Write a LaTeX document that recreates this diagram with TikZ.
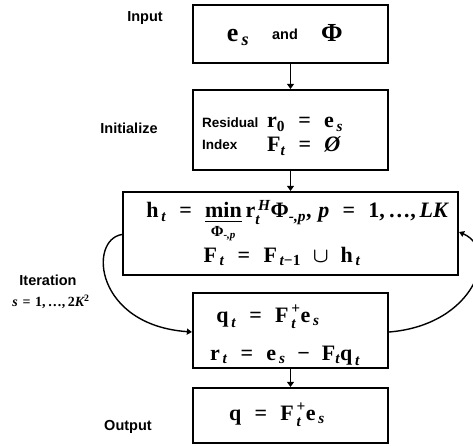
\documentclass[tikz,border=0pt]{standalone}
\usepackage{amsmath,amssymb}
\usepackage{fontspec}
\setmainfont{Liberation Serif}
\setsansfont{Liberation Sans}
\usetikzlibrary{arrows.meta}
% bold upright and bold italic text glyphs inside formulas
\newcommand\tb[1]{\text{\bfseries #1}}
\newcommand\ti[1]{\text{\bfseries\itshape #1}}
\newcommand\eq{\mathrel{\;\tb{=}\;}}
\begin{document}
\begin{tikzpicture}[x=1pt,y=-1pt,
  box/.style={draw, line width=2.2pt, rectangle, inner sep=0pt, minimum width=195pt},
  lbl/.style={inner sep=0pt, font=\sffamily\bfseries\fontsize{14.5}{16}\selectfont},
  sublbl/.style={inner sep=0pt, anchor=base west, font=\sffamily\bfseries\fontsize{13.5}{15}\selectfont},
  mth/.style={inner sep=0pt, anchor=base, font=\fontsize{22}{26}\selectfont\boldmath},
  flow/.style={line width=1.8pt, -{Triangle[width=7pt,length=5pt]}},
  loopback/.style={line width=1.4pt, -{Triangle[width=6pt,length=5pt]}}]
\useasboundingbox (0,0) rectangle (473,446);

% process boxes
\node[box, minimum height=58pt] (input) at (290.5,34) {};
\node[box, minimum height=80pt] (init) at (290.5,130) {};
\node[box, minimum width=335pt, minimum height=83pt] (iter) at (290.5,233.5) {};
\node[box, minimum height=75pt] (update) at (290.5,330.5) {};
\node[box, minimum height=55pt] (output) at (290.5,415.5) {};

% stage labels
\node[lbl] (lin) at (145,18) {Input};
\node[lbl] (linit) at (129,128) {Initialize};
\node[lbl] (liter) at (48,280) {Iteration};
\node[inner sep=0pt, font=\fontsize{14}{17}\selectfont\boldmath] (lrange) at (51,302) {$\ti{s}\mathrel{\tb{=}}\tb{1,\,…,\,2}\ti{K}^{\tb{2}}$};
\node[lbl] (lout) at (128,427) {Output};

% box contents
\node[mth, font=\fontsize{26}{30}\selectfont\boldmath] (es) at (238,42) {$\tb{e}_{\,\ti{s}}$};
\node[lbl, anchor=base] (and) at (285,40) {and};
\node[mth, font=\fontsize{26}{30}\selectfont\boldmath] (phi) at (332,42) {$\tb{Φ}$};

\node[sublbl] (res) at (202,128) {Residual};
\node[sublbl] (idx) at (202,150) {Index};
\node[mth, anchor=base west] (r0) at (267,128) {$\tb{r}_{\tb{0}}\eq\tb{e}_{\,\ti{s}}$};
\node[mth, anchor=base west] (f0) at (267,152) {$\tb{F}_{\ti{t}}\eq\ti{Ø}$};

\node[mth] (sel) at (297,218) {$\tb{h}_{\,\ti{t}}\eq\mathop{\underline{\tb{min}}}\limits_{\tb{Φ}_{\ti{-,p}}}\tb{r}_{\ti{t}}^{\,\ti{H}}\tb{Φ}_{\ti{-,p}}\tb{,}\;\ti{p}\eq\tb{1,\,…,\,}\ti{LK}$};
\node[mth] (merge) at (282,262) {$\tb{F}_{\,\ti{t}}\eq\tb{F}_{\,\ti{t}\tb{−}\tb{1}}\mathbin{\;\cup\;}\tb{h}_{\,\ti{t}}$};

\node[mth] (ls) at (268,322) {$\tb{q}_{\,\ti{t}}\eq\tb{F}_{\,\ti{t}}^{\,\tb{+}}\tb{e}_{\,\ti{s}}$};
\node[mth] (resid) at (285,360) {$\tb{r}_{\,\ti{t}}\eq\tb{e}_{\,\ti{s}}\mathbin{\;−\;}\tb{F}_{\ti{t}}\tb{q}_{\,\ti{t}}$};

\node[mth] (final) at (277,420) {$\tb{q}\eq\tb{F}_{\,\ti{t}}^{\,\tb{+}}\tb{e}_{\,\ti{s}}$};

% straight flow
\draw[flow] (input) -- (init);
\draw[flow] (init) -- (iter);
\draw[flow] (update) -- (output);

% iteration loop
\draw[loopback] ([yshift=-1pt]iter.west) .. controls (88,240) and (95,325) .. ([yshift=-1.5pt]update.west);
\draw[loopback] ([yshift=-1.5pt]update.east) .. controls (475,325) and (500,250) .. ([yshift=1.5pt]iter.east);
\end{tikzpicture}
\end{document}
